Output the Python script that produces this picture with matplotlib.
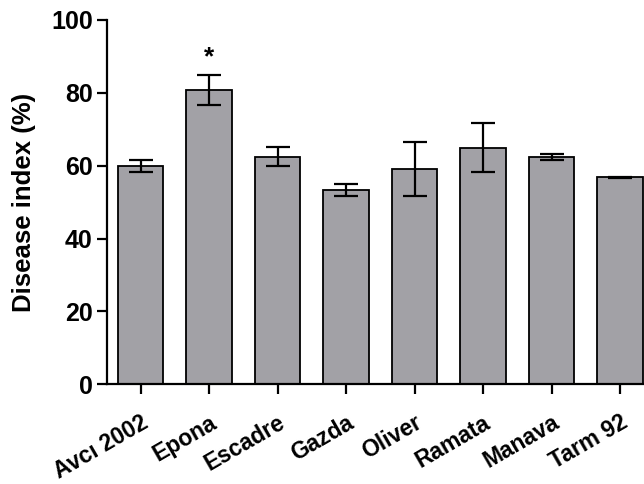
import numpy as np
from matplotlib import pyplot as plt
from matplotlib.transforms import ScaledTranslation

# Disease index per cultivar (mean and error)
cultivars = ['Avcı 2002', 'Epona', 'Escadre', 'Gazda', 'Oliver', 'Ramata', 'Manava', 'Tarm 92']
disease_index = [60.0, 80.8, 62.4, 53.3, 59.1, 64.9, 62.4, 56.8]
error = [1.6, 4.2, 2.6, 1.6, 7.4, 6.7, 0.8, 0.2]
significant = [False, True, False, False, False, False, False, False]

plt.rcParams['font.family'] = ['Liberation Sans', 'DejaVu Sans']
plt.rcParams['font.weight'] = 'bold'

fig = plt.figure(figsize=(6.44, 4.84), dpi=100)
ax = fig.add_axes([0.1661, 0.206, 0.8339, 0.7527])

x = np.arange(len(cultivars))
ax.bar(x, disease_index, width=0.66, color='#a2a1a6', edgecolor='black', linewidth=1.3,
       yerr=error, capsize=8.5, error_kw=dict(elinewidth=1.6, capthick=1.6, ecolor='black'))

# Mark significant difference
for xi, m, e, s in zip(x, disease_index, error, significant):
    if s:
        ax.text(xi, m + e + 1.5, '*', ha='center', va='bottom', fontsize=19, fontweight='bold')

ax.set_xlim(-0.49, 7.35)
ax.set_ylim(0, 100)
ax.set_yticks(np.arange(0, 101, 20))
ax.set_xticks(x)
ax.set_xticklabels(cultivars, rotation=30, ha='right', rotation_mode='anchor', fontsize=16.5, fontweight='bold')
ax.set_ylabel('Disease index (%)', fontsize=18.5, fontweight='bold')
ax.yaxis.set_label_coords(-0.133, 0.5)

shift = ScaledTranslation(6 / 100, 0, fig.dpi_scale_trans)
for lbl in ax.get_xticklabels():
    lbl.set_transform(lbl.get_transform() + shift)

for lbl in ax.get_yticklabels():
    lbl.set_fontsize(18)
    lbl.set_fontweight('bold')

ax.spines['top'].set_visible(False)
ax.spines['right'].set_visible(False)
ax.spines['left'].set_linewidth(1.6)
ax.spines['bottom'].set_linewidth(1.6)
ax.tick_params(axis='y', direction='out', length=7.2, width=1.6, pad=3)
ax.tick_params(axis='x', direction='out', length=7.2, width=1.6, pad=12)

fig.savefig('out.png', dpi=100)
